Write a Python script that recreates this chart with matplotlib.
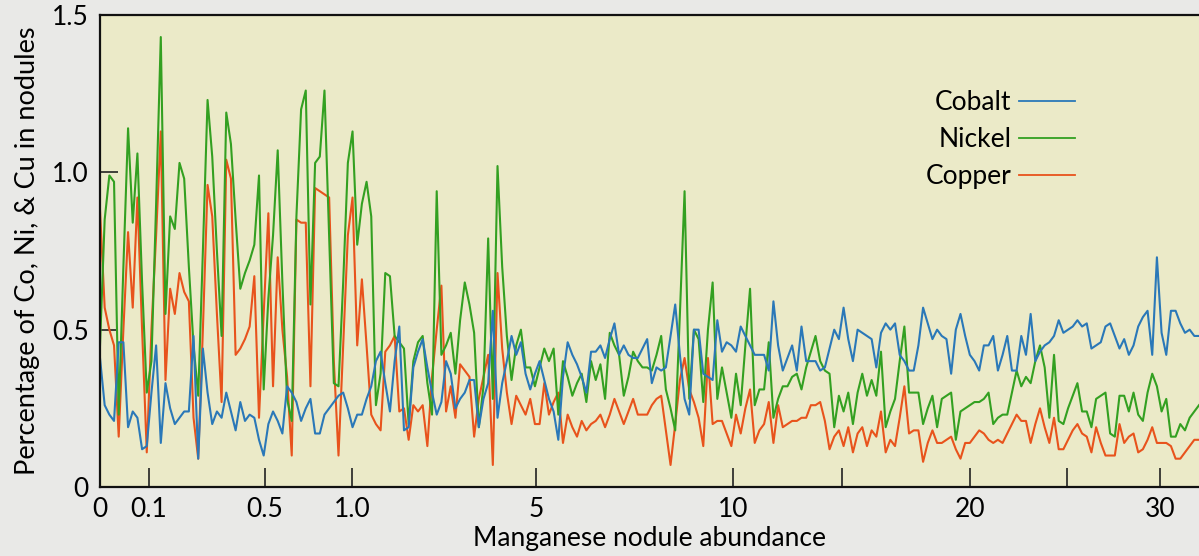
import matplotlib
matplotlib.use('Agg')
from matplotlib import pyplot as plt

# values, one per sample along the x axis
cobalt = [
    0.41, 0.26, 0.23, 0.21, 0.46, 0.46, 0.19, 0.24, 0.22, 0.12,
    0.13, 0.30, 0.45, 0.14, 0.33, 0.25, 0.20, 0.22, 0.24, 0.24,
    0.48, 0.09, 0.44, 0.30, 0.20, 0.24, 0.22, 0.30, 0.24, 0.18,
    0.27, 0.21, 0.23, 0.22, 0.15, 0.10, 0.20, 0.24, 0.21, 0.17,
    0.32, 0.30, 0.27, 0.21, 0.25, 0.28, 0.17, 0.17, 0.23, 0.25,
    0.27, 0.29, 0.30, 0.25, 0.19, 0.23, 0.23, 0.28, 0.32, 0.40,
    0.43, 0.33, 0.24, 0.40, 0.51, 0.18, 0.19, 0.38, 0.43, 0.47,
    0.38, 0.30, 0.23, 0.27, 0.40, 0.36, 0.25, 0.28, 0.30, 0.34,
    0.34, 0.19, 0.28, 0.33, 0.56, 0.22, 0.33, 0.40, 0.48, 0.42,
    0.46, 0.36, 0.31, 0.36, 0.40, 0.34, 0.28, 0.24, 0.15, 0.35,
    0.46, 0.42, 0.39, 0.35, 0.30, 0.43, 0.43, 0.45, 0.41, 0.47,
    0.52, 0.42, 0.45, 0.42, 0.41, 0.41, 0.44, 0.47, 0.33, 0.38,
    0.37, 0.38, 0.48, 0.58, 0.42, 0.28, 0.23, 0.50, 0.50, 0.36,
    0.35, 0.34, 0.53, 0.43, 0.46, 0.45, 0.43, 0.51, 0.48, 0.45,
    0.42, 0.42, 0.42, 0.37, 0.59, 0.45, 0.37, 0.41, 0.45, 0.37,
    0.51, 0.40, 0.40, 0.40, 0.37, 0.38, 0.44, 0.50, 0.47, 0.57,
    0.47, 0.40, 0.50, 0.49, 0.48, 0.47, 0.38, 0.49, 0.52, 0.50,
    0.52, 0.42, 0.40, 0.37, 0.37, 0.45, 0.57, 0.52, 0.47, 0.50,
    0.48, 0.47, 0.36, 0.50, 0.55, 0.48, 0.42, 0.40, 0.37, 0.45,
    0.45, 0.48, 0.37, 0.42, 0.48, 0.37, 0.37, 0.48, 0.42, 0.55,
    0.40, 0.43, 0.45, 0.46, 0.48, 0.53, 0.49, 0.50, 0.51, 0.53,
    0.51, 0.52, 0.44, 0.45, 0.46, 0.51, 0.52, 0.48, 0.44, 0.47,
    0.42, 0.45, 0.51, 0.54, 0.56, 0.42, 0.73, 0.49, 0.42, 0.56,
    0.56, 0.52, 0.49, 0.50, 0.48, 0.48,
]

nickel = [
    0.45, 0.85, 0.99, 0.97, 0.23, 0.70, 1.14, 0.84, 1.06, 0.65,
    0.30, 0.40, 0.90, 1.43, 0.55, 0.86, 0.82, 1.03, 0.98, 0.70,
    0.45, 0.29, 0.75, 1.23, 1.05, 0.75, 0.48, 1.19, 1.09, 0.85,
    0.63, 0.68, 0.72, 0.77, 0.99, 0.31, 0.60, 0.80, 1.07, 0.65,
    0.28, 0.21, 0.86, 1.20, 1.26, 0.58, 1.03, 1.05, 1.26, 0.80,
    0.33, 0.32, 0.65, 1.03, 1.13, 0.77, 0.90, 0.97, 0.86, 0.26,
    0.36, 0.68, 0.67, 0.48, 0.46, 0.44, 0.20, 0.40, 0.46, 0.48,
    0.33, 0.23, 0.94, 0.42, 0.45, 0.49, 0.36, 0.53, 0.65, 0.58,
    0.49, 0.19, 0.32, 0.79, 0.28, 1.02, 0.70, 0.48, 0.34, 0.45,
    0.50, 0.38, 0.38, 0.32, 0.38, 0.44, 0.40, 0.44, 0.23, 0.40,
    0.35, 0.29, 0.33, 0.36, 0.27, 0.40, 0.34, 0.39, 0.28, 0.49,
    0.45, 0.42, 0.29, 0.35, 0.43, 0.40, 0.38, 0.38, 0.37, 0.42,
    0.48, 0.31, 0.25, 0.18, 0.55, 0.94, 0.28, 0.50, 0.47, 0.27,
    0.50, 0.65, 0.28, 0.38, 0.30, 0.22, 0.36, 0.26, 0.45, 0.63,
    0.26, 0.31, 0.31, 0.46, 0.22, 0.28, 0.32, 0.32, 0.35, 0.36,
    0.31, 0.38, 0.43, 0.48, 0.40, 0.37, 0.36, 0.19, 0.29, 0.24,
    0.30, 0.20, 0.30, 0.36, 0.29, 0.34, 0.29, 0.43, 0.19, 0.24,
    0.28, 0.40, 0.51, 0.30, 0.30, 0.30, 0.20, 0.25, 0.29, 0.19,
    0.28, 0.29, 0.30, 0.15, 0.24, 0.25, 0.26, 0.27, 0.27, 0.28,
    0.30, 0.20, 0.22, 0.23, 0.23, 0.30, 0.37, 0.32, 0.35, 0.33,
    0.40, 0.45, 0.38, 0.22, 0.42, 0.21, 0.20, 0.25, 0.29, 0.33,
    0.24, 0.24, 0.19, 0.28, 0.29, 0.30, 0.17, 0.16, 0.29, 0.29,
    0.24, 0.30, 0.23, 0.21, 0.30, 0.36, 0.32, 0.24, 0.28, 0.16,
    0.16, 0.20, 0.18, 0.22, 0.24, 0.26,
]

copper = [
    0.88, 0.57, 0.50, 0.45, 0.16, 0.50, 0.81, 0.57, 0.92, 0.50,
    0.11, 0.50, 0.80, 1.13, 0.34, 0.63, 0.55, 0.68, 0.62, 0.59,
    0.22, 0.09, 0.50, 0.96, 0.86, 0.55, 0.27, 1.04, 0.98, 0.42,
    0.44, 0.47, 0.51, 0.67, 0.22, 0.55, 0.87, 0.32, 0.73, 0.50,
    0.35, 0.10, 0.85, 0.84, 0.84, 0.32, 0.95, 0.94, 0.93, 0.92,
    0.40, 0.10, 0.45, 0.80, 0.92, 0.45, 0.66, 0.45, 0.23, 0.20,
    0.18, 0.43, 0.45, 0.48, 0.24, 0.25, 0.15, 0.26, 0.24, 0.26,
    0.13, 0.35, 0.50, 0.64, 0.24, 0.32, 0.22, 0.39, 0.37, 0.35,
    0.16, 0.28, 0.35, 0.42, 0.07, 0.68, 0.44, 0.30, 0.20, 0.29,
    0.26, 0.23, 0.28, 0.20, 0.20, 0.33, 0.23, 0.27, 0.30, 0.14,
    0.23, 0.19, 0.16, 0.21, 0.18, 0.20, 0.21, 0.23, 0.19, 0.23,
    0.28, 0.24, 0.20, 0.24, 0.28, 0.23, 0.23, 0.23, 0.26, 0.28,
    0.29, 0.18, 0.07, 0.20, 0.34, 0.41, 0.31, 0.27, 0.22, 0.13,
    0.41, 0.20, 0.21, 0.21, 0.17, 0.13, 0.23, 0.17, 0.25, 0.31,
    0.14, 0.18, 0.20, 0.27, 0.14, 0.26, 0.19, 0.20, 0.21, 0.21,
    0.22, 0.22, 0.26, 0.26, 0.27, 0.21, 0.12, 0.16, 0.18, 0.13,
    0.19, 0.11, 0.17, 0.19, 0.13, 0.18, 0.16, 0.24, 0.11, 0.15,
    0.13, 0.22, 0.32, 0.17, 0.18, 0.18, 0.08, 0.14, 0.18, 0.14,
    0.14, 0.15, 0.16, 0.12, 0.09, 0.14, 0.14, 0.16, 0.18, 0.17,
    0.15, 0.14, 0.15, 0.14, 0.17, 0.20, 0.23, 0.21, 0.21, 0.14,
    0.20, 0.25, 0.19, 0.14, 0.22, 0.12, 0.12, 0.15, 0.18, 0.20,
    0.17, 0.16, 0.11, 0.19, 0.14, 0.10, 0.10, 0.10, 0.20, 0.14,
    0.16, 0.17, 0.11, 0.12, 0.15, 0.19, 0.14, 0.14, 0.14, 0.13,
    0.09, 0.09, 0.11, 0.13, 0.15, 0.15,
]

# abundance tick labels sit at uneven sample positions
tick_pos = [0, 10.5, 35.3, 53.9, 93.2, 135.3, 158.6, 186.0, 206.8, 226.6]
tick_labels = ['0', '0.1', '0.5', '1.0', '5', '10', '', '20', '', '30']

plt.rcParams['font.family'] = ['Lato', 'DejaVu Sans']

fig = plt.figure(figsize=(11.99, 5.56), dpi=100, facecolor='#e9e9e7')
ax = fig.add_axes([100 / 1199, 69 / 556, 1099 / 1199, 472 / 556])
ax.set_facecolor('#ebeac8')

x = list(range(len(cobalt)))
ax.plot(x, copper, color='#e8531c', lw=1.5, label='Copper')
ax.plot(x, nickel, color='#33a021', lw=1.5, label='Nickel')
ax.plot(x, cobalt, color='#2a78b8', lw=1.5, label='Cobalt')

ax.set_xlim(0, len(cobalt) - 1)
ax.set_ylim(0, 1.5)

ax.set_xticks(tick_pos)
ax.set_xticklabels(tick_labels)
ax.set_yticks([0, 0.5, 1.0, 1.5])
ax.set_yticklabels(['0', '0.5', '1.0', '1.5'])
ax.tick_params(axis='x', direction='in', length=14, width=1.2, pad=7,
               labelsize=19, color='#222222')
ax.tick_params(axis='y', direction='in', length=13, width=1.2, pad=8,
               labelsize=19, color='#222222')

for side in ['left', 'bottom', 'top']:
    ax.spines[side].set_linewidth(1.6)
    ax.spines[side].set_color('#111111')
ax.spines['right'].set_visible(False)

ax.set_xlabel('Manganese nodule abundance', fontsize=19, labelpad=3)
ax.set_ylabel('Percentage of Co, Ni, & Cu in nodules', fontsize=19.5)
ax.yaxis.set_label_coords(-0.0546, 0.5)

handles, labels = ax.get_legend_handles_labels()
leg = ax.legend(handles[::-1], labels[::-1], loc='upper right',
                bbox_to_anchor=(0.899, 0.868), frameon=False, markerfirst=False,
                fontsize=19, handlelength=2.1, handletextpad=0.3,
                labelspacing=0.45, borderpad=0)
for line in leg.get_lines():
    line.set_linewidth(1.3)

fig.savefig('out.png', dpi=100, facecolor=fig.get_facecolor())
